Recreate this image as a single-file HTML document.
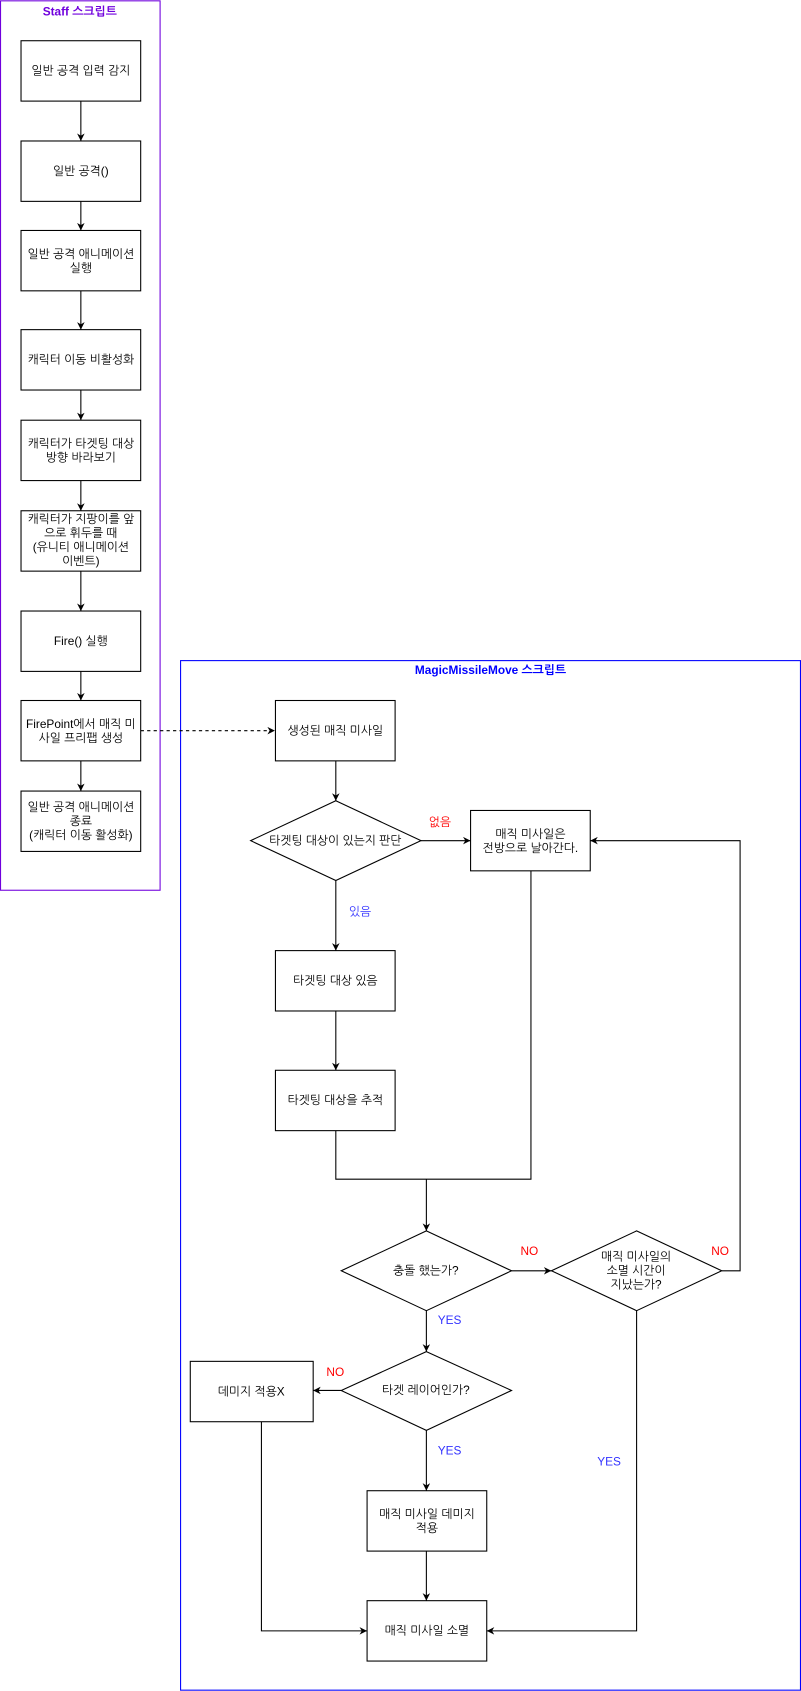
<!DOCTYPE html>
<html><head><meta charset="utf-8"><style>
html,body{margin:0;padding:0;background:#fff;}
svg{display:block;}
text{font-family:"Liberation Sans","NanumGothic","Noto Sans CJK KR",sans-serif;font-size:11px;fill:#000;text-anchor:middle;}
.b{fill:#fff;stroke:#000;stroke-width:1;}
.l{fill:none;stroke:#000;stroke-width:1;}
</style></head><body>
<svg width="801" height="1691" viewBox="0 0 743 1568" xmlns="http://www.w3.org/2000/svg">
<defs><marker id="a" viewBox="0 0 10 10" refX="10" refY="5" markerWidth="7" markerHeight="7" orient="auto" markerUnits="userSpaceOnUse"><path d="M0,0 L10,5 L0,10 L3,5 Z" fill="#000"/></marker></defs>
<!-- Staff container -->
<rect x="0.5" y="0.5" width="148" height="825" fill="none" stroke="#7000DD" stroke-width="1"/>
<text x="74" y="14" style="font-weight:bold;fill:#7000DD">Staff 스크립트</text>
<g>
<rect class="b" x="19.5" y="37.5" width="111" height="56"/><text x="75" y="69">일반 공격 입력 감지</text>
<rect class="b" x="19.5" y="130.5" width="111" height="56"/><text x="75" y="162">일반 공격()</text>
<rect class="b" x="19.5" y="213.5" width="111" height="56"/><text x="75" y="239">일반 공격 애니메이션</text><text x="75" y="252">실행</text>
<rect class="b" x="19.5" y="305.5" width="111" height="56"/><text x="75" y="337">캐릭터 이동 비활성화</text>
<rect class="b" x="19.5" y="389.5" width="111" height="56"/><text x="75" y="415">캐릭터가 타겟팅 대상</text><text x="75" y="428">방향 바라보기</text>
<rect class="b" x="19.5" y="473.5" width="111" height="56"/><text x="75" y="485">캐릭터가 지팡이를 앞</text><text x="75" y="498">으로 휘두를 때</text><text x="75" y="511">(유니티 애니메이션</text><text x="75" y="524">이벤트)</text>
<rect class="b" x="19.5" y="566.5" width="111" height="56"/><text x="75" y="598">Fire() 실행</text>
<rect class="b" x="19.5" y="649.5" width="111" height="56"/><text x="75" y="675">FirePoint에서 매직 미</text><text x="75" y="688">사일 프리팹 생성</text>
<rect class="b" x="19.5" y="733.5" width="111" height="56"/><text x="75" y="752">일반 공격 애니메이션</text><text x="75" y="765">종료</text><text x="75" y="778">(캐릭터 이동 활성화)</text>
<path class="l" d="M75,93.5V130.5" marker-end="url(#a)"/>
<path class="l" d="M75,186.5V213.5" marker-end="url(#a)"/>
<path class="l" d="M75,269.5V305.5" marker-end="url(#a)"/>
<path class="l" d="M75,361.5V389.5" marker-end="url(#a)"/>
<path class="l" d="M75,445.5V473.5" marker-end="url(#a)"/>
<path class="l" d="M75,529.5V566.5" marker-end="url(#a)"/>
<path class="l" d="M75,622.5V649.5" marker-end="url(#a)"/>
<path class="l" d="M75,705.5V733.5" marker-end="url(#a)"/>
</g>
<!-- Magic container -->
<rect x="167.5" y="612.5" width="575" height="955" fill="none" stroke="#0000FF" stroke-width="1"/>
<text x="455" y="625" style="font-weight:bold;fill:#0000FF">MagicMissileMove 스크립트</text>
<path d="M130.5,677.5H255" fill="none" stroke="#000" stroke-dasharray="3,3" marker-end="url(#a)"/>
<rect class="b" x="255.5" y="649.5" width="111" height="56"/><text x="311" y="681">생성된 매직 미사일</text>
<path class="l" d="M311.5,705.5V742.5" marker-end="url(#a)"/>
<path class="b" d="M311.5,742.5L390.5,779.5L311.5,816.5L232.5,779.5Z"/><text x="311" y="783">타겟팅 대상이 있는지 판단</text>
<path class="l" d="M390.5,779.5H436.5" marker-end="url(#a)"/>
<text x="408" y="766" style="fill:#FF0000">없음</text>
<rect class="b" x="436.5" y="751.5" width="111" height="56"/><text x="492" y="777">매직 미사일은</text><text x="492" y="790">전방으로 날아간다.</text>
<path class="l" d="M311.5,816.5V881.5" marker-end="url(#a)"/>
<text x="334" y="849" style="fill:#3333FF">있음</text>
<rect class="b" x="255.5" y="881.5" width="111" height="56"/><text x="311" y="913">타겟팅 대상 있음</text>
<path class="l" d="M311.5,937.5V992.5" marker-end="url(#a)"/>
<rect class="b" x="255.5" y="992.5" width="111" height="56"/><text x="311" y="1024">타겟팅 대상을 추적</text>
<path class="l" d="M311.5,1048.5V1093.5H492.5V807.5"/>
<path class="l" d="M395.5,1093.5V1141.5" marker-end="url(#a)"/>
<path class="b" d="M395.5,1141.5L474.5,1178.5L395.5,1215.5L316.5,1178.5Z"/><text x="395" y="1182">충돌 했는가?</text>
<path class="l" d="M474.5,1178.5H511.5" marker-end="url(#a)"/>
<text x="491" y="1164" style="fill:#FF0000">NO</text>
<path class="b" d="M590.5,1141.5L669.5,1178.5L590.5,1215.5L511.5,1178.5Z"/><text x="590" y="1169">매직 미사일의</text><text x="590" y="1182">소멸 시간이</text><text x="590" y="1195">지났는가?</text>
<path class="l" d="M669.5,1178.5H686.5V779.5H547.5" marker-end="url(#a)"/>
<text x="668" y="1164" style="fill:#FF0000">NO</text>
<path class="l" d="M395.5,1215.5V1253.5" marker-end="url(#a)"/>
<text x="417" y="1228" style="fill:#3333FF">YES</text>
<path class="b" d="M395.5,1253.5L474.5,1289.5L395.5,1326.5L316.5,1289.5Z"/><text x="395" y="1293">타겟 레이어인가?</text>
<path class="l" d="M316.5,1289.5H290.5" marker-end="url(#a)"/>
<text x="311" y="1276" style="fill:#FF0000">NO</text>
<rect class="b" x="176.5" y="1262.5" width="114" height="56"/><text x="233" y="1294">데미지 적용X</text>
<path class="l" d="M395.5,1326.5V1382.5" marker-end="url(#a)"/>
<text x="417" y="1349" style="fill:#3333FF">YES</text>
<rect class="b" x="340.5" y="1382.5" width="111" height="56"/><text x="396" y="1408">매직 미사일 데미지</text><text x="396" y="1421">적용</text>
<path class="l" d="M395.5,1438.5V1484.5" marker-end="url(#a)"/>
<rect class="b" x="340.5" y="1484.5" width="111" height="56"/><text x="396" y="1516">매직 미사일 소멸</text>
<path class="l" d="M242.5,1318.5V1512.5H340.5" marker-end="url(#a)"/>
<path class="l" d="M590.5,1215.5V1512.5H451.5" marker-end="url(#a)"/>
<text x="565" y="1359" style="fill:#3333FF">YES</text>
</svg>
</body></html>
